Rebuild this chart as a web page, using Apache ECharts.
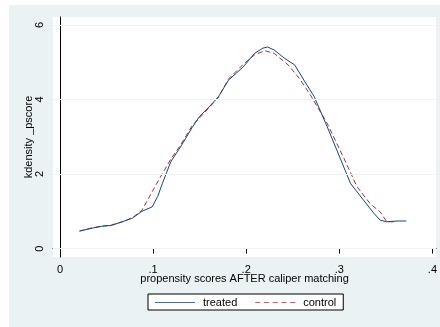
<!DOCTYPE html>
<html>
<head>
<meta charset="utf-8">
<script src="https://cdn.jsdelivr.net/npm/echarts@6/dist/echarts.min.js"></script>
<style>html,body{margin:0;padding:0;background:#fff}#c{width:440px;height:327px}</style>
</head>
<body>
<div id="c"></div>
<script>
const treatedX = [0.021,0.035,0.045,0.055,0.067,0.078,0.088,0.099,0.105,0.110,0.119,0.130,0.142,0.150,0.160,0.170,0.181,0.197,0.209,0.218,0.223,0.230,0.241,0.252,0.262,0.273,0.287,0.301,0.312,0.326,0.337,0.344,0.351,0.362,0.372];
const treatedY = [0.47,0.55,0.60,0.62,0.72,0.82,1.00,1.12,1.40,1.75,2.33,2.75,3.25,3.55,3.80,4.07,4.52,4.88,5.24,5.38,5.41,5.33,5.11,4.93,4.52,4.08,3.27,2.42,1.75,1.30,0.95,0.76,0.72,0.74,0.74];
const controlX = [0.021,0.035,0.045,0.055,0.067,0.078,0.088,0.096,0.106,0.119,0.130,0.142,0.156,0.170,0.181,0.197,0.209,0.220,0.230,0.245,0.257,0.269,0.287,0.305,0.319,0.333,0.344,0.351,0.362];
const controlY = [0.47,0.56,0.60,0.63,0.72,0.83,1.03,1.39,1.84,2.40,2.80,3.30,3.67,4.05,4.55,4.95,5.20,5.31,5.24,4.93,4.57,4.12,3.36,2.42,1.66,1.21,0.98,0.72,0.72];
const xTicks = [0,0.1,0.2,0.3,0.4];
const xTickLabels = ['0','.1','.2','.3','.4'];
const yTicks = [0,2,4,6];
const yTickLabels = ['0','2','4','6'];

const zip = (a,b)=>a.map((v,i)=>[v,b[i]]);
const chart = echarts.init(document.getElementById('c'));
const font = 'Liberation Sans, Arial, sans-serif';
const solidIcon = 'path://M0,0H40V1H0Z';
const dashIcon = 'path://M0,0H5V1H0Z M8.75,0H13.75V1H8.75Z M17.5,0H22.5V1H17.5Z M26.25,0H31.25V1H26.25Z M35,0H40V1H35Z';
chart.setOption({
  animation:false,
  backgroundColor:'#eaf2f3',
  textStyle:{fontFamily:font,color:'#000'},
  graphic:[
    {type:'rect',silent:true,shape:{x:0,y:0,width:440,height:5},style:{fill:'#fff'}},
    {type:'rect',silent:true,shape:{x:0,y:0,width:9,height:327},style:{fill:'#fff'}}
  ],
  grid:{left:53,top:17,right:0,bottom:70,show:true,backgroundColor:'#fff',borderWidth:0,containLabel:false},
  xAxis:{type:'value',min:-0.0075,max:0.404,
    name:'propensity scores AFTER caliper matching',nameLocation:'middle',nameGap:16,nameMoveOverlap:false,
    nameTextStyle:{fontFamily:font,fontSize:11,color:'#000'},
    axisLine:{show:true,lineStyle:{color:'#000',width:1}},
    axisTick:{show:true,length:5,customValues:xTicks,lineStyle:{color:'#000'}},
    axisLabel:{customValues:xTicks,formatter:v=>xTickLabels[xTicks.findIndex(t=>Math.abs(t-v)<1e-9)]??'',fontSize:11,color:'#000',margin:7,fontFamily:font},
    splitLine:{show:false}},
  yAxis:{type:'value',min:-0.226,max:6.215,
    name:'kdensity _pscore',nameLocation:'middle',nameGap:19,nameRotate:90,nameMoveOverlap:false,
    nameTextStyle:{fontFamily:font,fontSize:11,color:'#000'},
    axisLine:{show:true,lineStyle:{color:'#000',width:1}},
    axisTick:{show:true,length:5,customValues:yTicks,lineStyle:{color:'#000'}},
    axisLabel:{customValues:yTicks,rotate:90,formatter:v=>yTickLabels[yTicks.findIndex(t=>Math.abs(t-v)<1e-9)]??'',fontSize:11,color:'#000',margin:8,fontFamily:font},
    splitLine:{show:false}},
  legend:{left:148,top:294,padding:[3,7,2,7],itemGap:18,itemWidth:40,itemHeight:1,symbolKeepAspect:false,
    backgroundColor:'#fff',borderColor:'#000',borderWidth:1,borderRadius:0,
    textStyle:{fontFamily:font,fontSize:11,color:'#000',padding:[0,0,0,3]},
    data:[{name:'treated',icon:solidIcon,itemStyle:{color:'#4a6f94'}},{name:'control',icon:dashIcon,itemStyle:{color:'#b06a70'}}]},
  series:[
    {type:'line',name:'grid',silent:true,data:[],markLine:{silent:true,symbol:'none',label:{show:false},
      lineStyle:{color:'#eef3f3',type:'solid',width:1},data:yTicks.map(v=>({yAxis:v}))},z:1},
    {type:'line',name:'treated',data:zip(treatedX,treatedY),showSymbol:false,symbol:'none',
      lineStyle:{color:'#1a476f',width:1},itemStyle:{color:'#1a476f'},z:3},
    {type:'line',name:'control',data:zip(controlX,controlY),showSymbol:false,symbol:'none',
      lineStyle:{color:'#90353b',width:1,type:[5,3]},itemStyle:{color:'#90353b'},z:2}
  ]
});
</script>
</body>
</html>
